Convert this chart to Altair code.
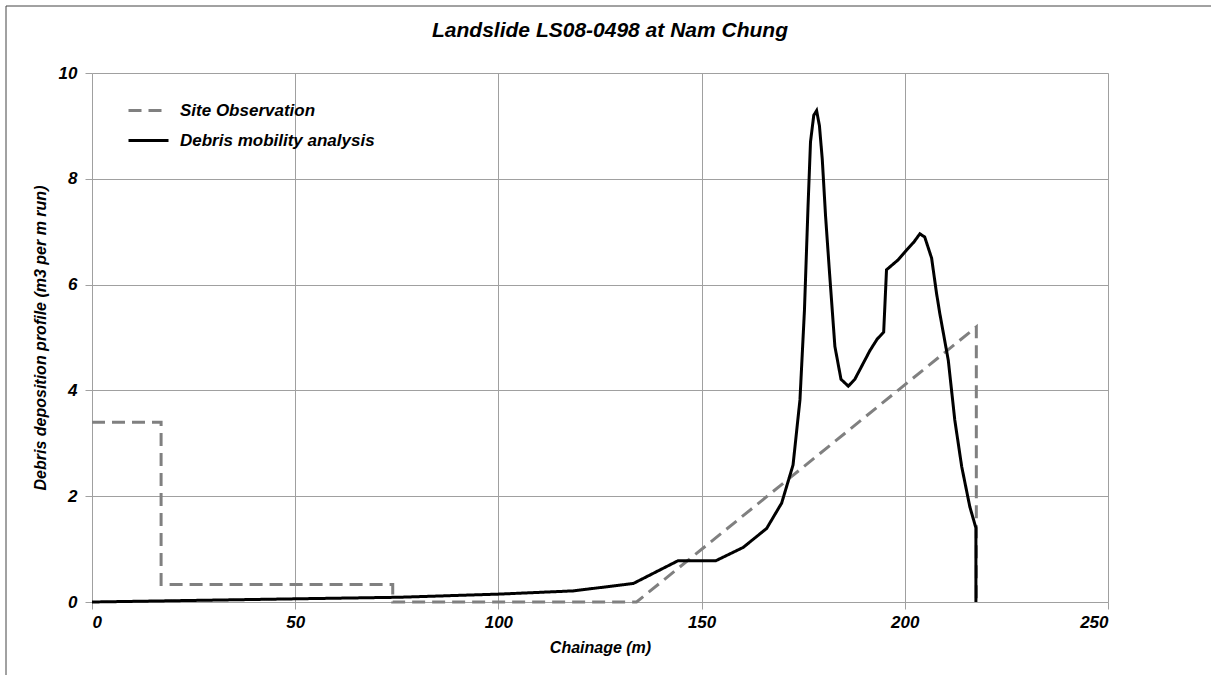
import altair as alt
import pandas as pd

series_names = ["Site Observation", "Debris mobility analysis"]

site_x = [0, 17, 17, 74, 74, 134, 217.6, 217.6]
site_y = [3.4, 3.4, 0.33, 0.33, 0, 0, 5.2, 0]

debris_x = [0, 50, 75.8, 100.4, 118.4, 133.2, 144.2, 153.5, 160.2, 166.0, 169.7,
            172.5, 174.2, 175.3, 176.2, 176.8, 177.6, 178.3, 179.0, 179.7, 180.5,
            181.5, 182.8, 184.3, 186.1, 187.7, 191.4, 193.2, 194.8, 195.5, 198.4,
            200.4, 202.2, 203.7, 204.9, 206.6, 207.8, 208.6, 210.7, 212.3, 214.0,
            216.0, 217.5, 217.5]
debris_y = [0, 0.06, 0.09, 0.15, 0.21, 0.35, 0.78, 0.78, 1.03, 1.39, 1.87,
            2.59, 3.82, 5.5, 7.5, 8.7, 9.2, 9.29, 9.0, 8.36, 7.3,
            6.2, 4.83, 4.21, 4.08, 4.21, 4.75, 4.97, 5.1, 6.28, 6.47,
            6.65, 6.8, 6.96, 6.9, 6.5, 5.84, 5.46, 4.57, 3.44, 2.56,
            1.8, 1.4, 0]

x_ticks = [0, 50, 100, 150, 200, 250]
y_ticks = [0, 2, 4, 6, 8, 10]

rows = []
for i, (x, y) in enumerate(zip(site_x, site_y)):
    rows.append({"series": series_names[0], "x": x, "y": y, "idx": i})
for i, (x, y) in enumerate(zip(debris_x, debris_y)):
    rows.append({"series": series_names[1], "x": x, "y": y, "idx": i})
df = pd.DataFrame(rows)

FONT = "Liberation Sans"
common_axis = dict(grid=True, gridColor="#a0a0a0", domain=False, tickColor="#a0a0a0",
                   tickSize=7, labelFontSize=17, labelFont=FONT, labelFontWeight="bold",
                   labelFontStyle="italic", labelColor="#000000", titleFont=FONT,
                   titleFontWeight="bold", titleFontStyle="italic", titleColor="#000000",
                   titleFontSize=16)

lines = alt.Chart(df).mark_line(strokeWidth=3).encode(
    x=alt.X("x:Q", scale=alt.Scale(domain=[0, 250], nice=False),
            axis=alt.Axis(values=x_ticks, title="Chainage (m)", labelPadding=5,
                          titlePadding=9, **common_axis)),
    y=alt.Y("y:Q", scale=alt.Scale(domain=[0, 10], nice=False),
            axis=alt.Axis(values=y_ticks, title="Debris deposition profile (m3 per m run)",
                          labelPadding=8, titlePadding=10, **common_axis)),
    color=alt.Color("series:N",
                    scale=alt.Scale(domain=series_names, range=["#808080", "#000000"]),
                    legend=alt.Legend(title=None, orient="none", legendX=35, legendY=16,
                                      symbolType="stroke", symbolSize=1600,
                                      symbolStrokeWidth=3, labelFontSize=17,
                                      labelFont=FONT, labelFontWeight="bold",
                                      labelFontStyle="italic", labelColor="#000000",
                                      labelLimit=500,
                                      labelOffset=10, rowPadding=-11, padding=0)),
    strokeDash=alt.StrokeDash("series:N",
                              scale=alt.Scale(domain=series_names, range=[[13, 7], [1, 0]]),
                              legend=None),
    order="idx:Q",
)

frame = alt.Chart(pd.DataFrame({"a": [0]})).mark_rect(
    fill=None, stroke="#444444", strokeWidth=1
).encode(x=alt.value(-86), x2=alt.value(1130), y=alt.value(-67), y2=alt.value(610))

chart = alt.layer(frame, lines).properties(
    width=1016, height=529,
    title=alt.TitleParams("Landslide LS08-0498 at Nam Chung", fontSize=21,
                          fontWeight="bold", fontStyle="italic", font=FONT,
                          offset=-35, dx=10, color="#000000"),
    padding={"left": 92, "top": 73, "right": 103, "bottom": 73},
    autosize=alt.AutoSizeParams(type="none"),
).configure_view(stroke=None).configure(background="white")

chart.save("out.html", embed_options={"renderer": "svg", "actions": False})
